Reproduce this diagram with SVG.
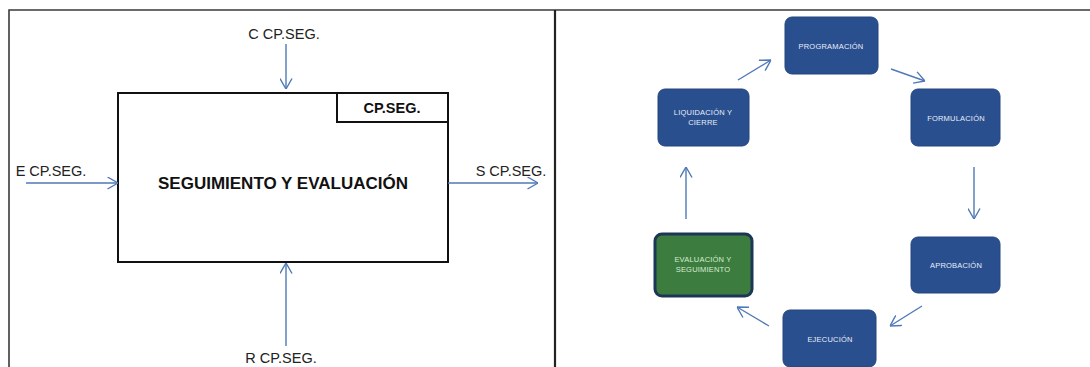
<svg xmlns="http://www.w3.org/2000/svg" width="1090" height="367" viewBox="0 0 1090 367">
<style>
.frame{fill:none;stroke:#3a3a3a;stroke-width:1.6}
.box{fill:#fff;stroke:#111;stroke-width:2}
.lbl{font-family:"Liberation Sans",Arial,sans-serif;font-size:14.5px;fill:#222;text-anchor:middle}
.bold{font-weight:bold;fill:#111}
.conn{stroke:#4f79b8;stroke-width:1.4;fill:none}
.node{fill:#2a4f8f;stroke:#24467f;stroke-width:1}
.green{fill:#3c7d3f;stroke:#1d3656;stroke-width:3}
.nt{font-family:"Liberation Sans",Arial,sans-serif;font-size:7.5px;fill:#e8eef8;text-anchor:middle;letter-spacing:0.2px}
.gt{fill:#d8ecd2}
</style>
<defs>
<marker id="ah" viewBox="0 0 11 13" refX="11" refY="6.5" markerWidth="11" markerHeight="13" markerUnits="userSpaceOnUse" orient="auto">
<path d="M0.5,0.5 L11,6.5 L0.5,12.5" fill="none" stroke="#4f79b8" stroke-width="1.4"/>
</marker>
</defs>
<rect width="1090" height="367" fill="#fff"/>
<g id="frame">
<path class="frame" d="M9,367 V10 H1090"/>
<path d="M555,10 V367" stroke="#222" stroke-width="2.2"/>
</g>
<g id="main-box">
<rect class="box" x="118" y="93" width="330" height="169"/>
<text class="lbl bold" x="283" y="189" style="font-size:17px">SEGUIMIENTO Y EVALUACIÓN</text>
</g>
<g id="tag-box">
<rect class="box" x="337" y="93" width="111" height="29"/>
<text class="lbl bold" x="392" y="113" style="font-size:14.5px">CP.SEG.</text>
</g>
<g id="labels">
<text class="lbl" x="284" y="39">C CP.SEG.</text>
<text class="lbl" x="51" y="176">E CP.SEG.</text>
<text class="lbl" x="511" y="176">S CP.SEG.</text>
<text class="lbl" x="281" y="363">R CP.SEG.</text>
</g>
<g id="n-prog"><rect class="node" x="785" y="17" width="93" height="57" rx="7"/><text class="nt" x="831" y="49">PROGRAMACIÓN</text></g>
<g id="n-form"><rect class="node" x="911" y="89" width="89" height="57" rx="7"/><text class="nt" x="956" y="121">FORMULACIÓN</text></g>
<g id="n-aprob"><rect class="node" x="911" y="237" width="89" height="56" rx="7"/><text class="nt" x="956" y="268">APROBACIÓN</text></g>
<g id="n-ejec"><rect class="node" x="783" y="310" width="93" height="57" rx="7"/><text class="nt" x="830" y="342">EJECUCIÓN</text></g>
<g id="n-eval"><rect class="green" x="655" y="234" width="97" height="62" rx="7"/><text class="nt gt" x="703" y="262">EVALUACIÓN Y</text><text class="nt gt" x="703" y="272">SEGUIMIENTO</text></g>
<g id="n-liq"><rect class="node" x="658" y="89" width="91" height="57" rx="7"/><text class="nt" x="703" y="115">LIQUIDACIÓN Y</text><text class="nt" x="703" y="125">CIERRE</text></g>
<g id="connectors">
<line class="conn" x1="286" y1="44" x2="286" y2="89" marker-end="url(#ah)"/>
<line class="conn" x1="26" y1="183" x2="118" y2="183" marker-end="url(#ah)"/>
<line class="conn" x1="448" y1="183" x2="538" y2="183" marker-end="url(#ah)"/>
<line class="conn" x1="286" y1="346" x2="286" y2="263" marker-end="url(#ah)"/>
<line class="conn" x1="738" y1="80" x2="771" y2="60" marker-end="url(#ah)"/>
<line class="conn" x1="891" y1="69" x2="925" y2="81" marker-end="url(#ah)"/>
<line class="conn" x1="974" y1="167" x2="974" y2="219" marker-end="url(#ah)"/>
<line class="conn" x1="922" y1="306" x2="890" y2="326" marker-end="url(#ah)"/>
<line class="conn" x1="769" y1="326" x2="737" y2="307" marker-end="url(#ah)"/>
<line class="conn" x1="686" y1="219" x2="686" y2="167" marker-end="url(#ah)"/>
</g>
</svg>
